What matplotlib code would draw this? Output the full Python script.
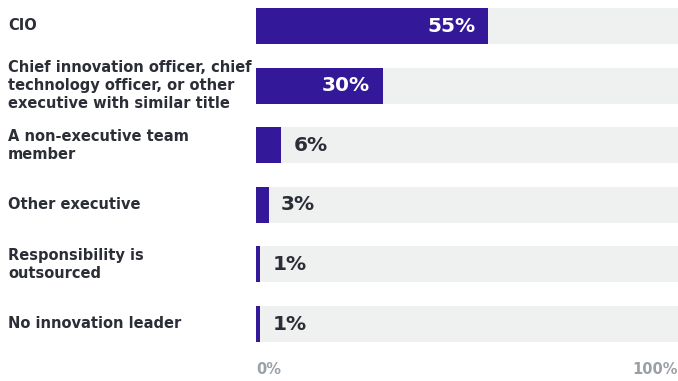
import numpy as np
import matplotlib
matplotlib.use("Agg")
import matplotlib.pyplot as plt
import matplotlib.transforms as mtransforms

# Data:
categories = [
    "CIO",
    "Chief innovation officer, chief\ntechnology officer, or other\nexecutive with similar title",
    "A non-executive team\nmember",
    "Other executive",
    "Responsibility is\noutsourced",
    "No innovation leader",
]
shares = [55, 30, 6, 3, 1, 1]
tick_labels = ["0%", "100%"]

# Style:
purple = "#33189a"
track = "#eff0f0"
dark = "#2b2e36"
grey = "#9aa0a6"
fontname = "DejaVu Sans"

W, H = 678, 381
fig = plt.figure(figsize=(W / 100, H / 100), dpi=100)

# Bar area runs from pixel 256 to the right edge
row_step = 59.6
first_center = 26
ax = fig.add_axes([256 / W, 0, (W - 256) / W, 1])
ax.set_xlim(0, 100)
ax.set_ylim((H - first_center) / row_step, -first_center / row_step)
ax.axis("off")

y = np.arange(len(categories))
ax.barh(y, [100] * len(categories), height=0.605, color=track, zorder=1)
ax.barh(y, shares, height=0.605, color=purple, zorder=2)

label_trans = mtransforms.blended_transform_factory(fig.transFigure, ax.transData)
for i, (cat, val) in enumerate(zip(categories, shares)):
    ax.text(8 / W, i, cat, transform=label_trans, ha="left", va="center",
            fontname=fontname, fontweight="bold", fontsize=10.5, color=dark,
            linespacing=1.27)
    if val >= 20:
        ax.annotate(f"{val}%", (val, i), xytext=(-13, 0), textcoords="offset pixels",
                    ha="right", va="center", fontname=fontname, fontweight="bold",
                    fontsize=14.5, color="white", zorder=3)
    else:
        ax.annotate(f"{val}%", (val, i), xytext=(12, 0), textcoords="offset pixels",
                    ha="left", va="center", fontname=fontname, fontweight="bold",
                    fontsize=14.5, color=dark, zorder=3)

# Axis end labels
tick_y = (370 - first_center) / row_step
ax.text(0, tick_y, tick_labels[0], ha="left", va="center", fontname=fontname,
        fontweight="bold", fontsize=10.5, color=grey)
ax.text(100, tick_y, tick_labels[1], ha="right", va="center", fontname=fontname,
        fontweight="bold", fontsize=10.5, color=grey)

fig.savefig("out.png", dpi=100, facecolor="white")
